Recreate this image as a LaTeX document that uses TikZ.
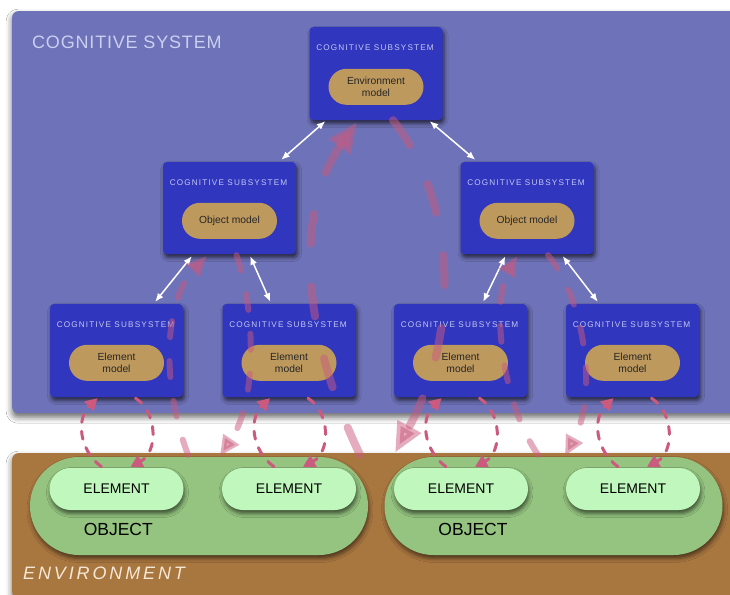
\documentclass[tikz,border=0pt]{standalone}
\usepackage{fontspec}
\setmainfont{Liberation Sans}
\newfontfamily\subfont[LetterSpace=14]{Liberation Sans}
\newfontfamily\sysfont[LetterSpace=4.5]{Liberation Sans}
\newfontfamily\envfont[LetterSpace=16]{Liberation Sans}
\usetikzlibrary{arrows.meta,calc,shadows.blur}
\definecolor{cogbg}{HTML}{6E72B8}
\definecolor{subbg}{HTML}{3036BE}
\definecolor{subtitlecol}{HTML}{C3C8F0}
\definecolor{modelbg}{HTML}{BE995E}
\definecolor{envbg}{HTML}{A8763F}
\definecolor{objbg}{HTML}{94C47F}
\definecolor{elbg}{HTML}{C0F7BC}
\definecolor{linkred}{HTML}{CB5A7E}
\definecolor{envtext}{HTML}{F6E8D6}
\definecolor{systext}{HTML}{C9D0F0}
\begin{document}
\begin{tikzpicture}[x=1pt,y=-1pt,
  panel/.style={draw=none, rounded corners=6pt, inner sep=0pt,
    blur shadow={shadow xshift=0pt, shadow yshift=-4pt, shadow blur radius=6pt, shadow opacity=60}},
  subbox/.style={fill=subbg, rounded corners=4pt, minimum width=133pt, minimum height=93pt, inner sep=0pt,
    blur shadow={shadow xshift=1.5pt, shadow yshift=-3.5pt, shadow blur radius=4pt, shadow opacity=65}},
  subtitle/.style={font=\subfont\fontsize{8.2}{9}\selectfont, text=subtitlecol, inner sep=0pt},
  model/.style={fill=modelbg, rounded corners=18pt, minimum width=95pt, minimum height=36pt, inner sep=0pt,
    align=center, font=\fontsize{10.3}{12.7}\selectfont, text=black!85},
  objpill/.style={fill=objbg, rounded corners=49pt, minimum width=338pt, minimum height=98pt, inner sep=0pt,
    blur shadow={shadow xshift=1pt, shadow yshift=-3.5pt, shadow blur radius=4pt, shadow opacity=55}},
  elpill/.style={fill=elbg, rounded corners=21pt, minimum width=134pt, minimum height=42pt, inner sep=0pt,
    font=\fontsize{14}{16}\selectfont,
    blur shadow={shadow xshift=1pt, shadow yshift=-3.5pt, shadow blur radius=4pt, shadow opacity=60}},
  objlabel/.style={font=\fontsize{17.5}{20}\selectfont, inner sep=0pt},
  duplex/.style={draw=white, line width=1.5pt, {Latex[length=8.5pt,width=7pt]}-{Latex[length=8.5pt,width=7pt]}},
  smalllink/.style={draw=linkred, line width=3pt, line cap=round, dash pattern=on 8pt off 9pt,
    -{Triangle[length=12pt,width=13pt]}},
  biglink/.style={draw=linkred, opacity=0.5, line width=6pt, line cap=round, dash pattern=on 16pt off 24pt,
    -{Triangle[length=20pt,width=18pt]}},
  hugelink/.style={draw=linkred, opacity=0.5, line width=8pt, line cap=round, dash pattern=on 30pt off 43pt,
    -{Triangle[length=30pt,width=25pt]}}
]
\path[use as bounding box, fill=white] (0,0) rectangle (730,594);

% panels
\node[panel, fill=cogbg, anchor=north west, minimum width=740pt, minimum height=402pt] (cogsys) at (12,11) {};
\node[panel, fill=envbg, anchor=north west, minimum width=740pt, minimum height=145pt] (envpanel) at (12,453) {};
\node[anchor=base west, inner sep=0pt, font=\sysfont\fontsize{18}{20}\selectfont, text=systext] (systitle) at (32,48.3) {COGNITIVE SYSTEM};
\node[anchor=base west, inner sep=0pt, font=\envfont\itshape\fontsize{18}{20}\selectfont, text=envtext] (envtitle) at (23,579) {ENVIRONMENT};

% subsystem boxes
\node[subbox] (sTop) at (376,73.5) {};
\node[subbox, minimum height=92pt] (sML) at (229.5,208) {};
\node[subbox, minimum height=92pt] (sMR) at (527,208) {};
\node[subbox] (sB1) at (116.5,350.5) {};
\node[subbox] (sB2) at (289,350.5) {};
\node[subbox] (sB3) at (460.5,350.5) {};
\node[subbox] (sB4) at (632.5,350.5) {};

\foreach \s in {sTop,sML,sMR,sB1,sB2,sB3,sB4}{
  \node[subtitle] (t\s) at ($(\s.north)+(-1,21)$) {COGNITIVE SUBSYSTEM};
}
\node[model] (mTop) at ($(sTop.north)+(0,60)$) {Environment\\model};
\node[model] (mML) at ($(sML.north)+(0,59)$) {Object model};
\node[model] (mMR) at ($(sMR.north)+(0,59)$) {Object model};
\node[model] (mB1) at ($(sB1.north)+(0,59)$) {Element\\model};
\node[model] (mB2) at ($(sB2.north)+(0,59)$) {Element\\model};
\node[model] (mB3) at ($(sB3.north)+(0,59)$) {Element\\model};
\node[model] (mB4) at ($(sB4.north)+(0,59)$) {Element\\model};

% objects and elements
\node[objpill] (obj1) at (199,506) {};
\node[objpill] (obj2) at (553.5,506) {};
\node[objlabel] (objtext1) at (118.3,529) {OBJECT};
\node[objlabel] (objtext2) at (473,529) {OBJECT};
\node[elpill] (el1) at (116.5,489) {ELEMENT};
\node[elpill] (el2) at (289,489) {ELEMENT};
\node[elpill] (el3) at (461,489) {ELEMENT};
\node[elpill] (el4) at (633,489) {ELEMENT};

% white two-way links
\draw[duplex] ($(sTop.south west)+(16,1)$) -- ($(sML.north east)+(-15,-2)$);
\draw[duplex] ($(sTop.south east)+(-13,1)$) -- ($(sMR.north west)+(15,-2)$);
\draw[duplex] ($(sML.south west)+(29,2)$) -- ($(sB1.north east)+(-28,-2)$);
\draw[duplex] ($(sML.south east)+(-46,2)$) -- ($(sB2.north west)+(48,-2)$);
\draw[duplex] ($(sMR.south west)+(45,2)$) -- ($(sB3.north east)+(-44,-2)$);
\draw[duplex] ($(sMR.south east)+(-31,2)$) -- ($(sB4.north west)+(32,-2)$);

% element-level loops
\foreach \e/\s in {el1/sB1,el2/sB2,el3/sB3,el4/sB4}{
  \draw[smalllink] ($(\e.north)+(-15,-1)$) .. controls +(-23,-17) and +(-21,20) .. ($(\s.south)+(-19,1)$);
  \draw[smalllink] ($(\s.south)+(19,1)$) .. controls +(22,14) and +(28,-15) .. ($(\e.north)+(14,-1)$);
}

% object-level loops
\draw[biglink] ($(obj1.north)+(-11,-2)$) .. controls (160,380) and (165,300) .. ($(sML.south)+(-23,2)$);
\draw[biglink] ($(sML.south)+(7,1)$) .. controls (255,310) and (258,400) .. ($(obj1.north)+(21,-1)$);
\draw[biglink] ($(obj2.north)+(-15.5,-2)$) .. controls (500,400) and (492,300) .. ($(sMR.south)+(-10,2)$);
\draw[biglink] ($(sMR.south)+(21,1)$) .. controls (585,300) and (598,395) .. ($(obj2.north)+(11.5,-1)$);

% environment-level loop
\draw[hugelink] ($(obj1.north)+(161,-2)$) .. controls (300,330) and (295,210) .. ($(sTop.south)+(-19,2)$);
\draw[hugelink] ($(sTop.south)+(17,0)$) .. controls (455,200) and (462,330) .. ($(obj2.north)+(-158.5,-4)$);
\end{tikzpicture}
\end{document}
